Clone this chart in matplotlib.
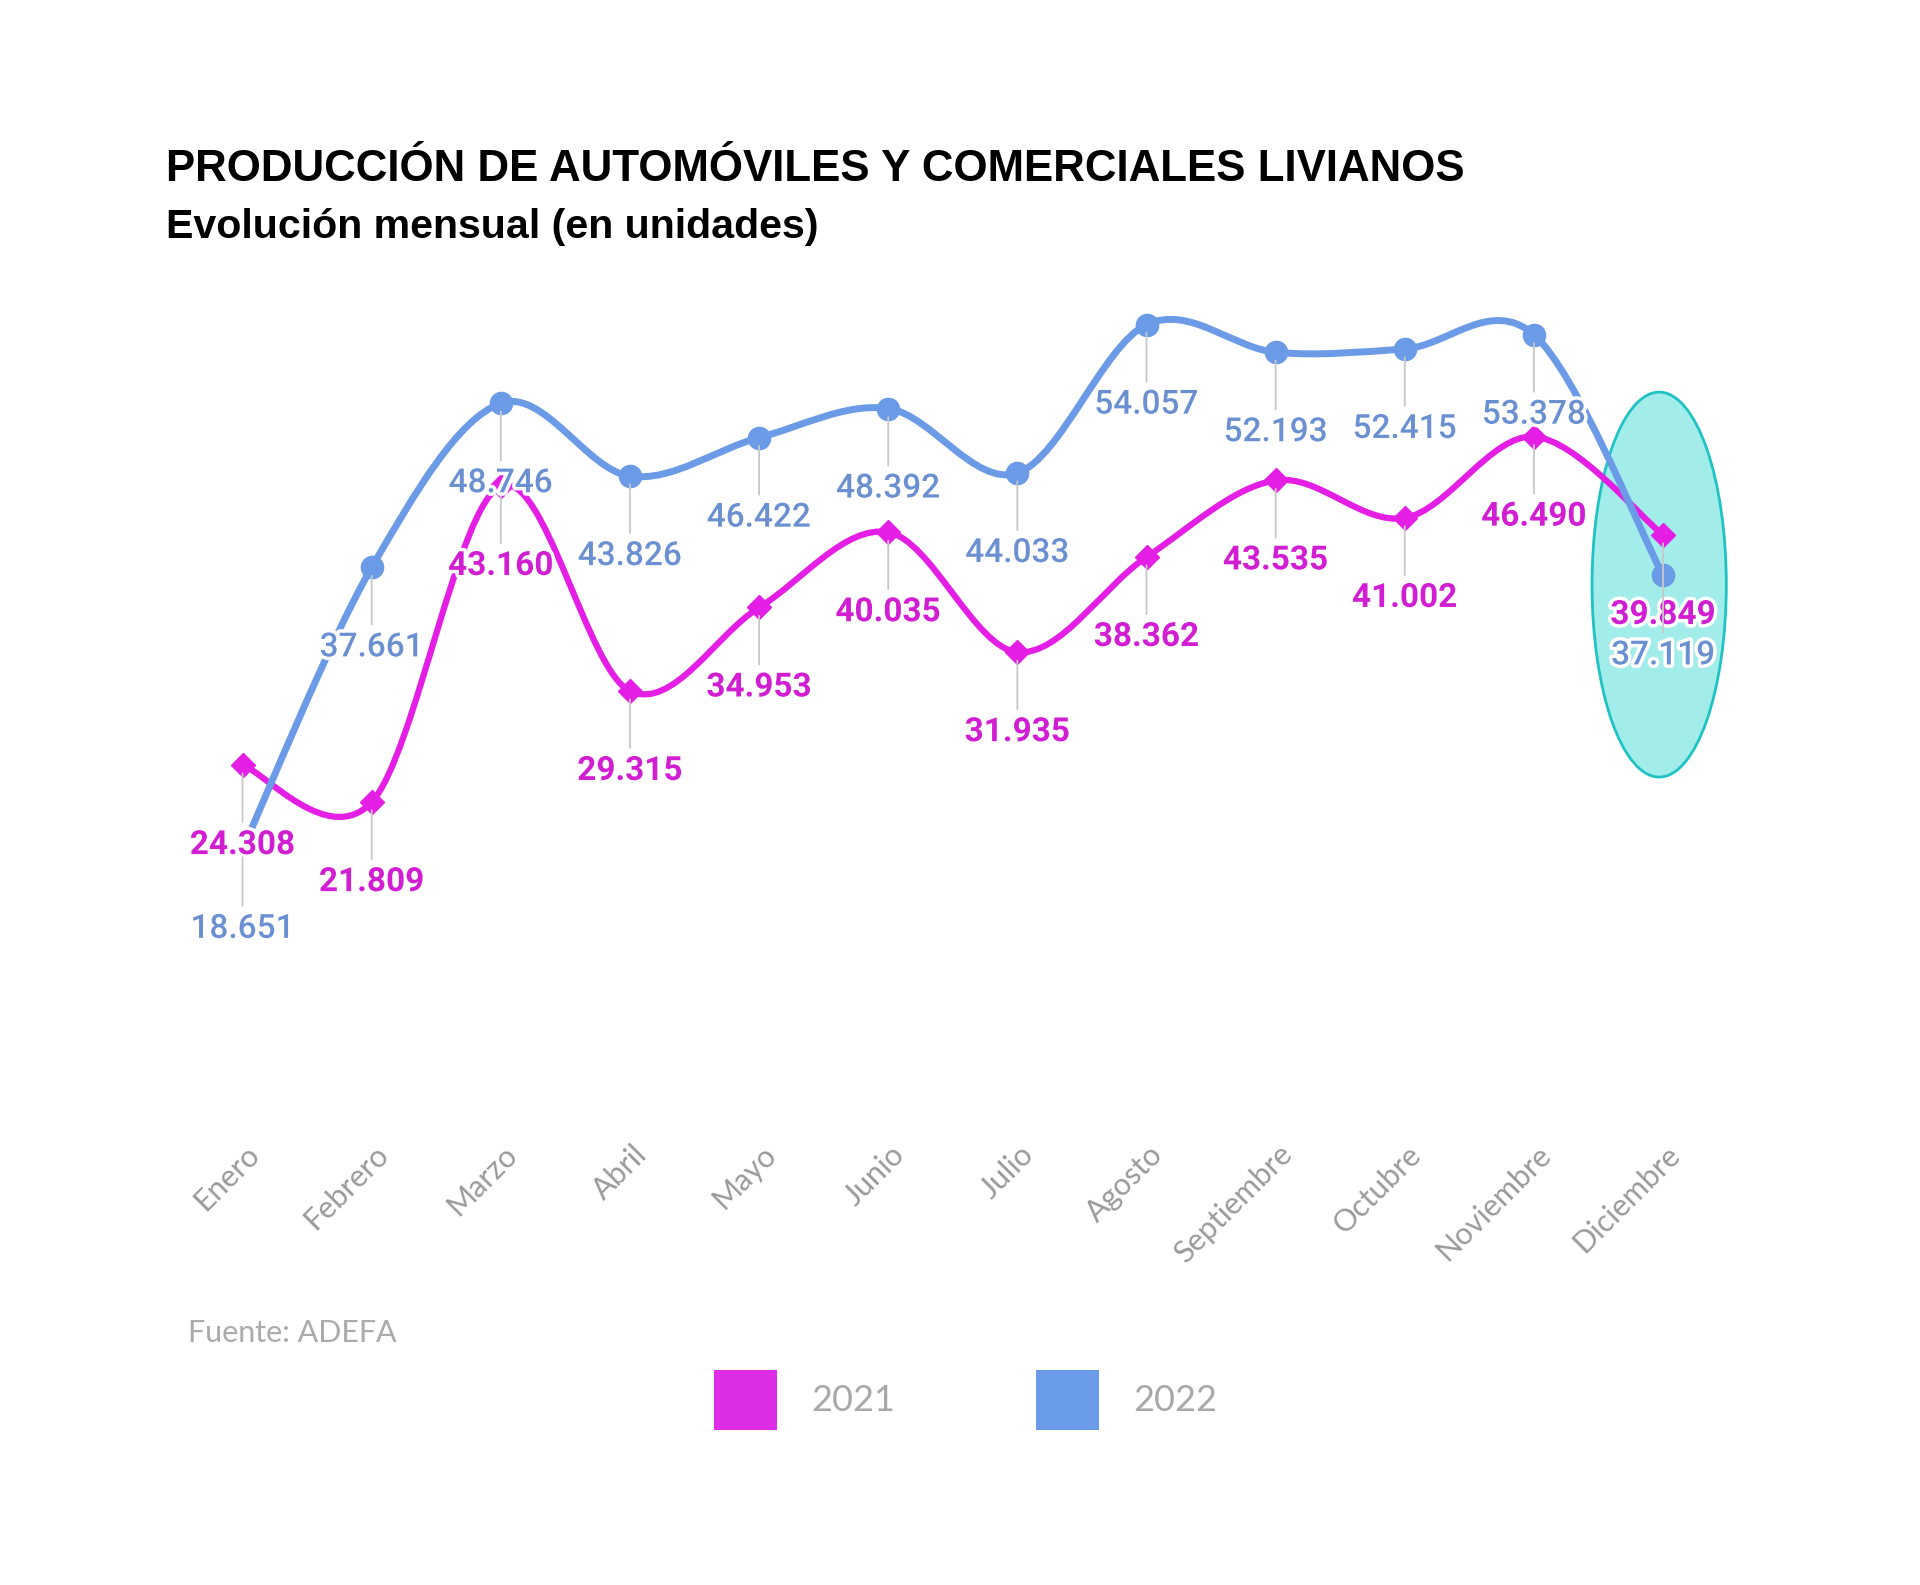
import numpy as np
import matplotlib
matplotlib.use("Agg")
import matplotlib.pyplot as plt
import matplotlib.patheffects as pe
from matplotlib.path import Path
from matplotlib.patches import PathPatch, Ellipse, Patch
from matplotlib.transforms import ScaledTranslation

# datos (ADEFA)
meses = ["Enero", "Febrero", "Marzo", "Abril", "Mayo", "Junio", "Julio",
         "Agosto", "Septiembre", "Octubre", "Noviembre", "Diciembre"]
prod_2021 = [24308, 21809, 43160, 29315, 34953, 40035, 31935,
             38362, 43535, 41002, 46490, 39849]
prod_2022 = [18651, 37661, 48746, 43826, 46422, 48392, 44033,
             54057, 52193, 52415, 53378, 37119]

col_21 = "#e41ee4"
col_22 = "#6b9be6"
lbl_21 = "#d21ed2"
lbl_22 = "#6a90d2"


def smooth_path(x, y):
    # catmull-rom -> bezier
    pts = np.column_stack([x, y]).astype(float)
    p = np.vstack([pts[0], pts, pts[-1]])
    verts = [pts[0]]
    codes = [Path.MOVETO]
    for i in range(len(pts) - 1):
        p0, p1, p2, p3 = p[i], p[i + 1], p[i + 2], p[i + 3]
        verts += [p1 + (p2 - p0) / 6, p2 - (p3 - p1) / 6, p2]
        codes += [Path.CURVE4] * 3
    return Path(verts, codes)


fig = plt.figure(figsize=(19.2, 15.85), dpi=100)
ax = fig.add_axes([0.0927, 0.2902, 0.8071, 0.5605])
x = np.arange(len(meses))

# highlight diciembre
ax.add_patch(Ellipse((10.97, 36500), 1.04, 26000, facecolor="#a2ecea",
                     edgecolor="#1fc3c3", lw=2, zorder=1))

for vals, col, lw, z in [(prod_2021, col_21, 4.5, 2), (prod_2022, col_22, 5, 3)]:
    ax.add_patch(PathPatch(smooth_path(x, vals), fill=False, edgecolor=col,
                           lw=lw, capstyle="round", joinstyle="round", zorder=z))

ax.plot(x, prod_2021, linestyle="none", marker="D", markersize=12,
        color=col_21, zorder=4)
ax.plot(x[1:], prod_2022[1:], linestyle="none", marker="o", markersize=16,
        color=col_22, zorder=4)

halo = [pe.withStroke(linewidth=5, foreground="white")]
for vals, col, weight in [(prod_2021, lbl_21, "bold"), (prod_2022, lbl_22, "medium")]:
    for i, v in enumerate(vals):
        ax.annotate(f"{v:,}".replace(",", "."), xy=(i, v), xytext=(0, -57.6),
                    textcoords="offset points", ha="center", va="center",
                    fontsize=24, family="Roboto", fontweight=weight, color=col,
                    path_effects=halo, zorder=6,
                    arrowprops=dict(arrowstyle="-", color="#c8c8c8", lw=1.3,
                                    shrinkA=3, shrinkB=6))

ax.set_xlim(-0.5, 11.5)
ax.set_ylim(0, 60000)
ax.set_xticks(x)
ax.set_xticklabels(meses, rotation=45, ha="right", va="center",
                   rotation_mode="anchor", fontsize=22, family="Lato",
                   color="#9a9a9a")
ax.tick_params(axis="x", length=0, pad=18)
for t in ax.get_xticklabels():
    t.set_transform(t.get_transform() + ScaledTranslation(0.12, 0, fig.dpi_scale_trans))
ax.set_yticks([])
for s in ax.spines.values():
    s.set_visible(False)

fig.text(0.0865, 0.893, "PRODUCCIÓN DE AUTOMÓVILES Y COMERCIALES LIVIANOS",
         fontsize=31.6, fontweight="bold", family="Liberation Sans", va="center")
fig.text(0.0865, 0.857, "Evolución mensual (en unidades)",
         fontsize=29.6, fontweight="bold", family="Liberation Sans", va="center")
fig.text(0.098, 0.1587, "Fuente: ADEFA", fontsize=22, family="Lato",
         color="#ababab", va="center")

handles = [Patch(facecolor="#dd2ee6"), Patch(facecolor="#6a9be8")]
fig.legend(handles, ["2021", "2022"], loc="center", bbox_to_anchor=(0.503, 0.1167),
           ncol=2, frameon=False, prop={"family": "Lato", "size": 26},
           labelcolor="#a8a8a8", handlelength=1.75, handleheight=2.15,
           handletextpad=0.95, columnspacing=3.9)

fig.savefig("out.png", dpi=100, facecolor="white")
